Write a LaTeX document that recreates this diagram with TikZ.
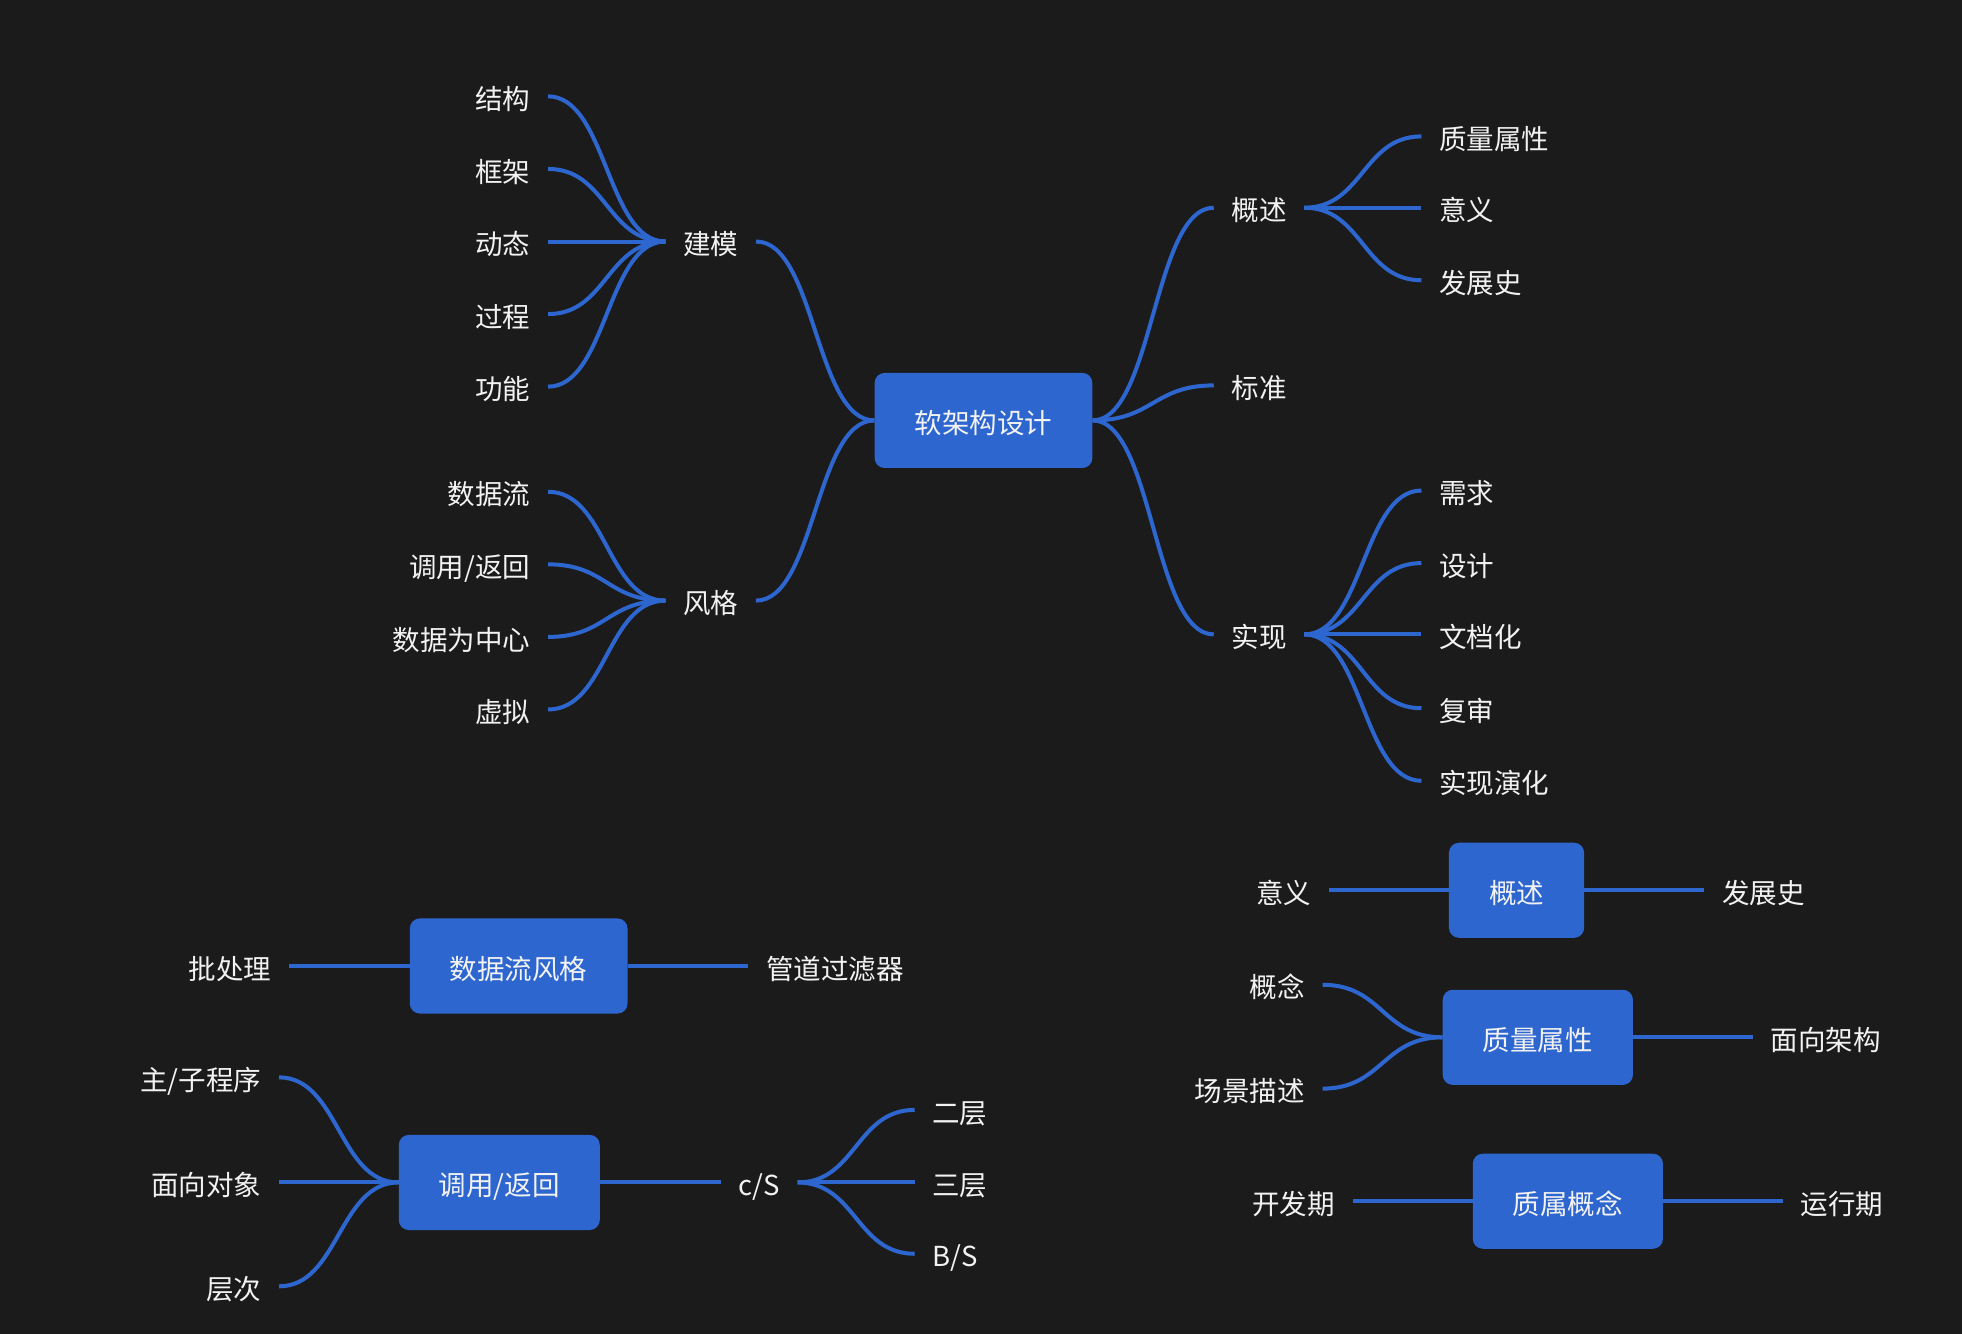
\documentclass[tikz,border=0pt]{standalone}
\usepackage{fontspec}
\setmainfont{Noto Sans CJK SC}
\usetikzlibrary{positioning,calc}
\definecolor{bgdark}{HTML}{1B1B1B}
\definecolor{mapblue}{HTML}{2E66D0}
\definecolor{txtwhite}{HTML}{F2F2F2}

\begin{document}
\begin{tikzpicture}[x=1pt, y=-1pt,
    every node/.style={font=\fontsize{22}{26}\selectfont, text=txtwhite, text height=21pt, text depth=0pt},
    topic/.style={fill=mapblue, rounded corners=8pt, inner xsep=32pt, minimum height=76pt},
    item/.style={inner xsep=14pt},
    lft/.style={item, anchor=east},
    rgt/.style={item, anchor=west},
    conn/.style={draw=mapblue, line width=3.2pt},
    branch/.style={to path={let \p1=(\tikztostart), \p2=(\tikztotarget) in
        .. controls ({(\x1+\x2)/2},\y1) and ({(\x1+\x2)/2},\y2) .. (\tikztotarget)}}]
    % Background
    \fill[bgdark] (0,0) rectangle (1568,1066);
    \useasboundingbox (0,0) rectangle (1568,1066);
    % Main map
    \node[topic] (core) at (786,336) {软架构设计};
    \node[item] (model) at (568,193) {建模};
    \node[item] (style) at (568,480) {风格};
    \node[rgt] (ovw) at (970,166) {概述};
    \node[rgt] (stdd) at (970,308) {标准};
    \node[rgt] (impl) at (970,507) {实现};
    \draw[conn] (core.west) to[branch] (model.east);
    \draw[conn] (core.west) to[branch] (style.east);
    \draw[conn] (core.east) to[branch] (ovw.west);
    \draw[conn] (core.east) to[branch] (stdd.west);
    \draw[conn] (core.east) to[branch] (impl.west);
    % Modelling
    \node[lft] (m1) at (438,77) {结构};
    \node[lft] (m2) at (438,135) {框架};
    \node[lft] (m3) at (438,193) {动态};
    \node[lft] (m4) at (438,251) {过程};
    \node[lft] (m5) at (438,309) {功能};
    \draw[conn] (model.west) to[branch] (m1.east);
    \draw[conn] (model.west) to[branch] (m2.east);
    \draw[conn] (model.west) to[branch] (m3.east);
    \draw[conn] (model.west) to[branch] (m4.east);
    \draw[conn] (model.west) to[branch] (m5.east);
    % Styles
    \node[lft] (s1) at (438,393) {数据流};
    \node[lft] (s2) at (438,451) {调用/返回};
    \node[lft] (s3) at (438,509) {数据为中心};
    \node[lft] (s4) at (438,567) {虚拟};
    \draw[conn] (style.west) to[branch] (s1.east);
    \draw[conn] (style.west) to[branch] (s2.east);
    \draw[conn] (style.west) to[branch] (s3.east);
    \draw[conn] (style.west) to[branch] (s4.east);
    % Overview
    \node[rgt] (o1) at (1136,109) {质量属性};
    \node[rgt] (o2) at (1136,166) {意义};
    \node[rgt] (o3) at (1136,224) {发展史};
    \draw[conn] (ovw.east) to[branch] (o1.west);
    \draw[conn] (ovw.east) to[branch] (o2.west);
    \draw[conn] (ovw.east) to[branch] (o3.west);
    % Implementation
    \node[rgt] (i1) at (1136,392) {需求};
    \node[rgt] (i2) at (1136,450) {设计};
    \node[rgt] (i3) at (1136,507) {文档化};
    \node[rgt] (i4) at (1136,566) {复审};
    \node[rgt] (i5) at (1136,624) {实现演化};
    \draw[conn] (impl.east) to[branch] (i1.west);
    \draw[conn] (impl.east) to[branch] (i2.west);
    \draw[conn] (impl.east) to[branch] (i3.west);
    \draw[conn] (impl.east) to[branch] (i4.west);
    \draw[conn] (impl.east) to[branch] (i5.west);
    % Data flow style
    \node[topic] (dfs) at (414.5,772) {数据流风格};
    \node[lft] (batch) at (231,772) {批处理};
    \node[rgt] (pipe) at (598,772) {管道过滤器};
    \draw[conn] (dfs.west) -- (batch.east);
    \draw[conn] (dfs.east) -- (pipe.west);
    % Call/return
    \node[topic] (callret) at (399,945) {调用/返回};
    \node[lft] (c1) at (223,861) {主/子程序};
    \node[lft] (c2) at (223,945) {面向对象};
    \node[lft] (c3) at (223,1028) {层次};
    \node[rgt] (cs) at (576,945) {c/S};
    \node[rgt] (t1) at (731,887) {二层};
    \node[rgt] (t2) at (731,945) {三层};
    \node[rgt] (t3) at (731,1002) {B/S};
    \draw[conn] (callret.west) to[branch] (c1.east);
    \draw[conn] (callret.west) to[branch] (c2.east);
    \draw[conn] (callret.west) to[branch] (c3.east);
    \draw[conn] (callret.east) -- (cs.west);
    \draw[conn] (cs.east) to[branch] (t1.west);
    \draw[conn] (cs.east) to[branch] (t2.west);
    \draw[conn] (cs.east) to[branch] (t3.west);
    % Overview box
    \node[topic] (ovbox) at (1212,711.5) {概述};
    \node[lft] (meaning) at (1062,711.5) {意义};
    \node[rgt] (history) at (1362,711.5) {发展史};
    \draw[conn] (ovbox.west) -- (meaning.east);
    \draw[conn] (ovbox.east) -- (history.west);
    % Quality attributes
    \node[topic] (qattr) at (1229,829) {质量属性};
    \node[lft] (q1) at (1057,787) {概念};
    \node[lft] (q2) at (1057,870) {场景描述};
    \node[rgt] (q3) at (1401,829) {面向架构};
    \draw[conn] (qattr.west) to[branch] (q1.east);
    \draw[conn] (qattr.west) to[branch] (q2.east);
    \draw[conn] (qattr.east) -- (q3.west);
    % Quality concept
    \node[topic] (qcon) at (1253,960) {质属概念};
    \node[lft] (devt) at (1081,960) {开发期};
    \node[rgt] (runt) at (1425,960) {运行期};
    \draw[conn] (qcon.west) -- (devt.east);
    \draw[conn] (qcon.east) -- (runt.west);
\end{tikzpicture}
\end{document}
